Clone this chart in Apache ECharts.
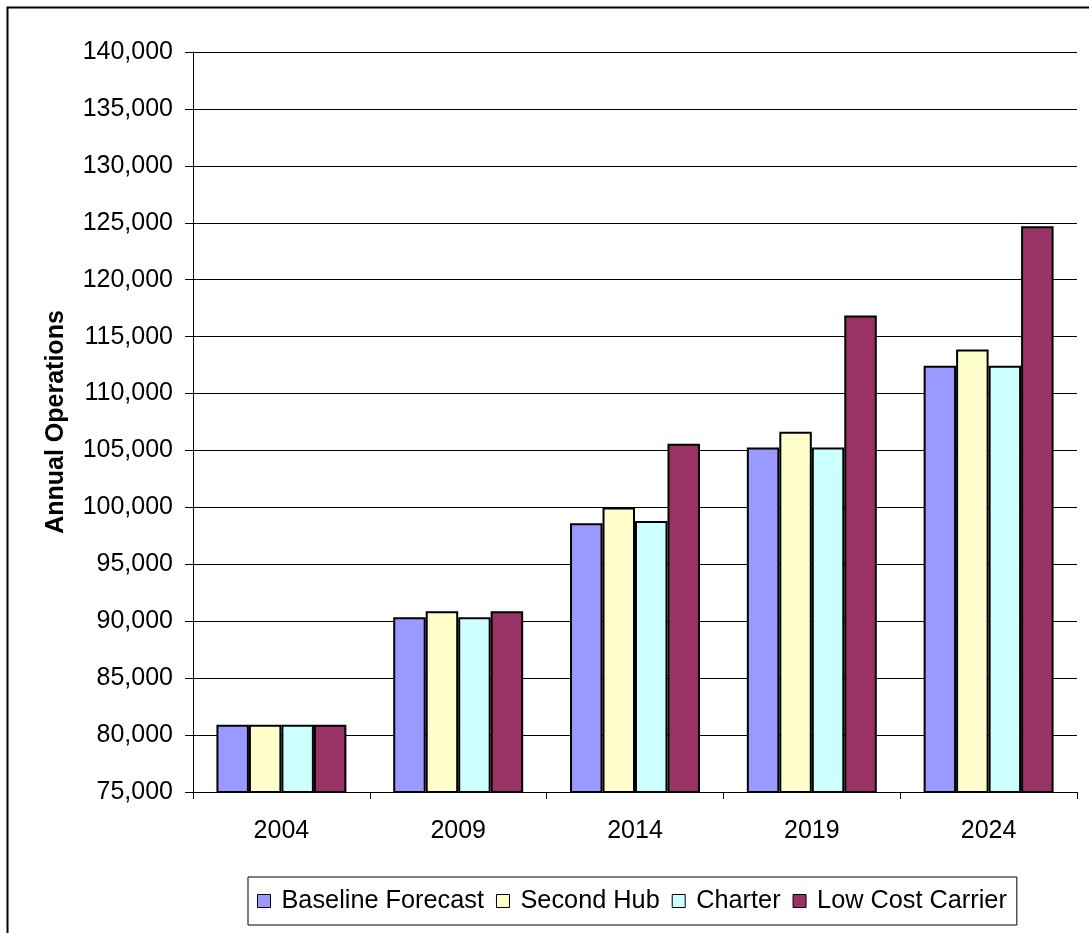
<!DOCTYPE html>
<html>
<head>
<meta charset="utf-8">
<script src="https://cdn.jsdelivr.net/npm/echarts@6/dist/echarts.min.js"></script>
<style>
  html, body { margin: 0; padding: 0; background: #fff; }
  #chart { width: 1089px; height: 933px; }
</style>
</head>
<body>
<div id="chart"></div>
<script>
// Forecast years
const years = ['2004', '2009', '2014', '2019', '2024'];

// Annual operations by scenario
const baselineForecast = [80900, 90350, 98600, 105250, 112450];
const secondHub        = [80900, 90870, 100000, 106650, 113870];
const charter          = [80900, 90350, 98800, 105250, 112450];
const lowCostCarrier   = [80900, 90870, 105600, 116850, 124700];

// Value axis ticks
const yMin = 75000;
const yMax = 140000;
const yStep = 5000;

const seriesNames = ['Baseline Forecast', 'Second Hub', 'Charter', 'Low Cost Carrier'];
const seriesColors = ['#9999FF', '#FFFFCC', '#CCFFFF', '#993366'];
const seriesData = [baselineForecast, secondHub, charter, lowCostCarrier];

const font = 'Arial, "Liberation Sans", sans-serif';

const chart = echarts.init(document.getElementById('chart'), null, { renderer: 'canvas' });

chart.setOption({
  animation: false,
  backgroundColor: '#fff',
  textStyle: { fontFamily: font, color: '#000' },
  graphic: [{
    type: 'rect',
    shape: { x: 7.5, y: 7.5, width: 1200, height: 1200 },
    style: { fill: 'none', stroke: '#000', lineWidth: 2 },
    silent: true,
    z: -1
  }],
  grid: { left: 193, right: 12, top: 52, bottom: 141 },
  legend: {
    data: seriesNames,
    left: 248,
    top: 877,
    width: 900,
    itemWidth: 13,
    itemHeight: 13,
    itemGap: 12,
    padding: [11, 10, 11, 9],
    borderColor: '#000',
    borderWidth: 1,
    backgroundColor: '#fff',
    icon: 'rect',
    itemStyle: { borderColor: '#000', borderWidth: 1 },
    textStyle: { fontFamily: font, fontSize: 25.3, lineHeight: 26, color: '#000', padding: [0, 0, 0, 6] }
  },
  xAxis: {
    type: 'category',
    data: years,
    axisLine: { lineStyle: { color: '#000', width: 1 } },
    axisTick: { show: true, length: 7, lineStyle: { color: '#000' } },
    axisLabel: { fontFamily: font, fontSize: 25, color: '#000', margin: 27 },
    splitLine: { show: false }
  },
  yAxis: {
    type: 'value',
    min: yMin,
    max: yMax,
    interval: yStep,
    name: 'Annual Operations',
    nameLocation: 'middle',
    nameGap: 124,
    nameTextStyle: { fontFamily: font, fontSize: 25, fontWeight: 'bold', color: '#000' },
    axisLine: { show: true, lineStyle: { color: '#000', width: 1 } },
    axisTick: { show: true, inside: false, length: 8, lineStyle: { color: '#000' } },
    axisLabel: {
      fontFamily: font, fontSize: 25, color: '#000', margin: 20,
      formatter: v => v.toLocaleString('en-US')
    },
    splitLine: { show: true, lineStyle: { color: '#000', width: 1 } }
  },
  series: seriesData.map((d, i) => ({
    name: seriesNames[i],
    type: 'bar',
    data: d,
    barGap: '0%',
    barCategoryGap: '26.5%',
    itemStyle: { color: seriesColors[i], borderColor: '#000', borderWidth: 2 }
  }))
});
</script>
</body>
</html>
